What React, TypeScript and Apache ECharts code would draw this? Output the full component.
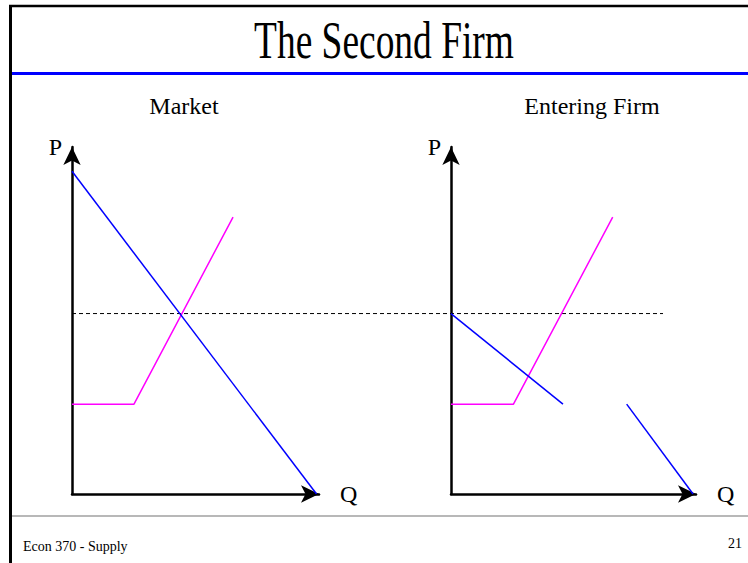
import React, { useEffect, useRef } from "react";
import * as echarts from "echarts";

// ---- Data (axis units 0..10) ----
const marketDemand: [number, number][] = [
  [0, 9.3],
  [9.9, 0],
];
const marketSupply: [number, number][] = [
  [0, 2.59],
  [2.51, 2.59],
  [6.52, 7.98],
];
const priceLevel = 5.2;
// the dashed price line runs from the market's P axis across both panels
const priceLine: [number, number][] = [
  [0, priceLevel],
  [23.9, priceLevel],
];
const residualDemandUpper: [number, number][] = [
  [0, priceLevel],
  [4.57, 2.59],
];
const residualDemandLower: [number, number][] = [
  [7.17, 2.59],
  [9.88, 0],
];
const firmSupply: [number, number][] = [
  [0, 2.59],
  [2.55, 2.59],
  [6.6, 7.98],
];
const panelTitles = ["Market", "Entering Firm"];
const axisNames = { price: "P", quantity: "Q" };
const slideTitle = "The Second Firm";
const footerLeft = "Econ 370 - Supply";
const footerRight = "21";

const FONT = "'Liberation Serif', 'Times New Roman', serif";

function makeXAxis(gridIndex: number) {
  return {
    type: "value",
    gridIndex,
    min: 0,
    max: 10,
    name: axisNames.quantity,
    nameLocation: "end",
    nameGap: 21,
    nameTextStyle: { fontSize: 24, color: "#000", fontFamily: FONT },
    axisLine: {
      show: true,
      onZero: false,
      symbol: ["none", "arrow"],
      symbolSize: [13, 18],
      lineStyle: { color: "#000", width: 2.5 },
    },
    axisTick: { show: false },
    axisLabel: { show: false },
    splitLine: { show: false },
  };
}

function makeYAxis(gridIndex: number) {
  return {
    type: "value",
    gridIndex,
    min: 0,
    max: 10,
    name: axisNames.price,
    nameLocation: "end",
    nameGap: 0,
    nameTextStyle: {
      fontSize: 24,
      color: "#000",
      fontFamily: FONT,
      align: "right",
      verticalAlign: "middle",
      padding: [0, 10, 0, 0],
    },
    axisLine: {
      show: true,
      onZero: false,
      symbol: ["none", "arrow"],
      symbolSize: [13, 18],
      lineStyle: { color: "#000", width: 2.5 },
    },
    axisTick: { show: false },
    axisLabel: { show: false },
    splitLine: { show: false },
  };
}

function hiddenAxis(gridIndex: number, max: number) {
  return {
    type: "value",
    gridIndex,
    min: 0,
    max,
    show: false,
    axisLine: { show: false },
    axisTick: { show: false },
    axisLabel: { show: false },
    splitLine: { show: false },
  };
}

function lineSeries(
  data: [number, number][],
  idx: number,
  color: string,
  extra: Record<string, unknown> = {}
) {
  return {
    type: "line",
    xAxisIndex: idx,
    yAxisIndex: idx,
    data,
    symbol: "none",
    showSymbol: false,
    silent: true,
    lineStyle: { color, width: 1.5 },
    ...extra,
  };
}

function text(
  str: string,
  x: number,
  y: number,
  size: number,
  align: string,
  scaleX = 1
) {
  return {
    type: "text",
    x,
    y,
    scaleX,
    silent: true,
    style: {
      text: str,
      fontSize: size,
      fontFamily: FONT,
      fill: "#000",
      align,
      verticalAlign: "middle",
      textAlign: align,
      textVerticalAlign: "middle",
    },
  };
}

function hline(x1: number, y1: number, x2: number, y2: number, color: string, width: number) {
  return {
    type: "line",
    silent: true,
    shape: { x1, y1, x2, y2 },
    style: { stroke: color, lineWidth: width },
  };
}

export default function App() {
  const ref = useRef<HTMLDivElement>(null);

  useEffect(() => {
    if (!ref.current) return;
    const chart = echarts.init(ref.current, undefined, { renderer: "svg" });
    const option = {
      animation: false,
      backgroundColor: "#fff",
      textStyle: { fontFamily: FONT },
      grid: [
        { left: 72, top: 147, width: 247, height: 347 },
        { left: 451, top: 147, width: 245, height: 347 },
        { left: 72, top: 147, width: 591, height: 347 },
      ],
      xAxis: [makeXAxis(0), makeXAxis(1), hiddenAxis(2, 23.9)],
      yAxis: [makeYAxis(0), makeYAxis(1), hiddenAxis(2, 10)],
      series: [
        lineSeries(priceLine, 2, "#000", {
          lineStyle: { color: "#000", width: 1, type: [4, 3] },
        }),
        lineSeries(marketSupply, 0, "#ff00ff"),
        lineSeries(marketDemand, 0, "#0000ff"),
        lineSeries(firmSupply, 1, "#ff00ff"),
        lineSeries(residualDemandUpper, 1, "#0000ff"),
        lineSeries(residualDemandLower, 1, "#0000ff"),
      ],
      graphic: [
        hline(10.5, 5, 10.5, 563, "#000", 3),
        hline(9, 6, 748, 6, "#000", 2.5),
        hline(12, 73.5, 748, 73.5, "#0000ff", 3),
        hline(12, 516, 748, 516, "#a0a0a0", 1.5),
        text(slideTitle, 384, 41, 52, "center", 0.72),
        text(panelTitles[0], 184, 106, 24, "center"),
        text(panelTitles[1], 592, 106, 24, "center"),
        text(footerLeft, 23, 546, 14, "left"),
        text(footerRight, 742, 543, 14, "right"),
      ],
    };
    chart.setOption(option as any);
    return () => chart.dispose();
  }, []);

  return (
    <div
      ref={ref}
      style={{ position: "absolute", left: 0, top: 0, width: 748, height: 563 }}
    />
  );
}
